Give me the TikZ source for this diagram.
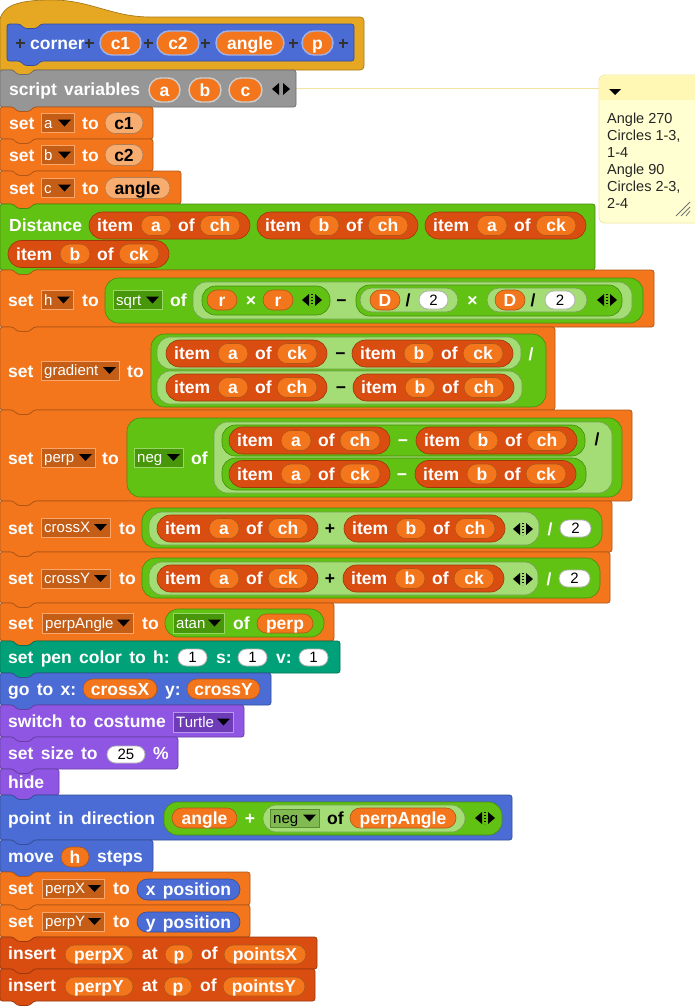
\documentclass[tikz,border=0pt]{standalone}
\usepackage{fontspec}
\setmainfont{Liberation Sans}
\definecolor{ctl}{RGB}{230,168,34}
\definecolor{mot}{RGB}{74,108,212}
\definecolor{lks}{RGB}{143,86,227}
\definecolor{pen}{RGB}{0,161,120}
\definecolor{ops}{RGB}{98,194,19}
\definecolor{opl}{RGB}{164,220,118}
\definecolor{var}{RGB}{243,118,29}
\definecolor{varl}{RGB}{247,172,112}
\definecolor{lst}{RGB}{217,77,17}
\definecolor{oth}{RGB}{150,150,150}
\definecolor{varD}{RGB}{196,93,22}
\definecolor{varB}{RGB}{250,165,105}
\definecolor{opsD}{RGB}{72,150,10}
\definecolor{opsB}{RGB}{150,215,100}
\definecolor{lksD}{RGB}{110,60,185}
\definecolor{lksB}{RGB}{185,150,240}
\definecolor{oplD}{RGB}{128,186,80}
\definecolor{oplB}{RGB}{90,140,50}
\definecolor{cmtb}{RGB}{255,255,210}
\definecolor{cmtt}{RGB}{255,248,180}
\definecolor{cmtd}{RGB}{240,230,160}
\definecolor{rimb}{RGB}{160,178,232}
\definecolor{rimg}{RGB}{205,205,205}
\newcounter{nn}
\tikzset{
 lbl/.style={anchor=base west,inner sep=0pt,font={\bfseries\fontsize{17.5}{20}\selectfont\spaceskip=7.3pt\relax},text=white},
 clbl/.style={lbl,anchor=base},
 ddt/.style={anchor=base west,inner sep=0pt,font={\fontsize{15}{17}\selectfont}},
 numt/.style={anchor=base,inner sep=0pt,font={\fontsize{15}{17}\selectfont},text=black},
 cmt/.style={anchor=base west,inner sep=0pt,font={\fontsize{14.5}{17}\selectfont},text=black!85},
}
\newcommand\cmd[5]{%
 \path[fill=#1,draw=#1!72!black,line width=.7,rounded corners=2.5pt] ({#2},{#5}) -- ({#2},{#3}) -- ({#2+13},{#3}) -- ({#2+17.5},{#3+4.5}) -- ({#2+29.5},{#3+4.5}) -- ({#2+34},{#3}) -- ({#4},{#3}) -- ({#4},{#5}) -- ({#2+34},{#5}) -- ({#2+29.5},{#5+4.5}) -- ({#2+17.5},{#5+4.5}) -- ({#2+13},{#5}) -- cycle;}
\newcommand\rep[6][]{%
 \pgfmathsetmacro\rr{min(13.5,((#6)-(#4))/2)}%
 \path[fill=#2,draw=#2!72!black,line width=.6,rounded corners=\rr pt,#1] ({#3},{#4}) rectangle ({#5},{#6});}
\newcommand\tx[4][white]{\stepcounter{nn}\node[lbl,text=#1] (n\arabic{nn}) at ({#2},{#3}) {#4};}
\newcommand\ct[4][white]{\stepcounter{nn}\node[clbl,text=#1] (n\arabic{nn}) at ({#2},{#3}) {#4};}
\newcommand\dd[8][white]{%
 \path[fill=#2,draw=#3,line width=.8] ({#4},{#5}) rectangle ({#6},{#7});
 \stepcounter{nn}\node[ddt,text=#1] (n\arabic{nn}) at ({#4+3},{(#5+#7)/2+5.3}) {#8};
 \fill[black] ({#6-16},{(#5+#7)/2-3.5}) -- ({#6-3},{(#5+#7)/2-3.5}) -- ({#6-9.5},{(#5+#7)/2+3.5}) -- cycle;}
\newcommand\num[5]{%
 \rep[fill=white,draw=black!30,line width=.8]{white}{#1}{#2}{#3}{#4}
 \stepcounter{nn}\node[numt] (n\arabic{nn}) at ({(#1+#3)/2},{(#2+#4)/2+5.3}) {#5};}
\newcommand\arw[2]{%
 \fill[black] ({#1},{#2}) -- ({#1+7},{#2-6}) -- ({#1+7},{#2+6}) -- cycle;
 \fill[black] ({#1+20},{#2}) -- ({#1+13},{#2-6}) -- ({#1+13},{#2+6}) -- cycle;
 \draw[black,line width=1.3,dash pattern=on 1.4pt off 1.6pt] ({#1+10},{#2-6}) -- ({#1+10},{#2+6});}
\newcommand\itm[4]{%
 \rep{lst}{#1}{#2-13.5}{#1+161}{#2+13.5}
 \tx{#1+8}{#2+6.3}{item}
 \rep{var}{#1+52}{#2-10}{#1+82}{#2+10}
 \ct{#1+67}{#2+6.3}{#3}
 \tx{#1+89}{#2+6.3}{of}
 \rep{var}{#1+111}{#2-10}{#1+151}{#2+10}
 \ct{#1+131}{#2+6.3}{#4}}
\newcommand\pls[2]{\draw[black!80,line width=1.3] ({#1-4.5},{#2}) -- ({#1+4.5},{#2}) ({#1},{#2-4.5}) -- ({#1},{#2+4.5});}
\begin{document}
\begin{tikzpicture}[x=1pt,y=-1pt]
\useasboundingbox[fill=white] (0,0) rectangle (695,1007);
% comment
\draw[cmtd,line width=1] (296,88) -- (599,88);
\path[fill=cmtb,draw=cmtd,line width=.8,rounded corners=6pt] (599,75) rectangle (703,223);
\fill[cmtt,rounded corners=6pt] (599.6,100) -- (599.6,75.6) -- (702.4,75.6) -- (702.4,100);
\fill[black] (609,89) -- (621,89) -- (615,95) -- cycle;
\node[cmt] (c1) at (607,123) {Angle 270};
\node[cmt] (c2) at (607,140) {Circles 1-3,};
\node[cmt] (c3) at (607,157) {1-4};
\node[cmt] (c4) at (607,174) {Angle 90};
\node[cmt] (c5) at (607,191) {Circles 2-3,};
\node[cmt] (c6) at (607,208) {2-4};
\draw[black!55,line width=.8] (676,216) -- (690,202) (681,216) -- (690,207) (686,216) -- (690,211);
% hat
\path[fill=ctl,draw=ctl!72!black,line width=.7] (0,70) -- (0,19) .. controls (4,4) and (22,0) .. (52,0) .. controls (90,0) and (112,17) .. (150,17) -- (360,17) .. controls (362.5,17) and (364,18.5) .. (364,21) -- (364,66) .. controls (364,68.5) and (362.5,70) .. (360,70) -- (34,70) -- (29.5,74.5) -- (17.5,74.5) -- (13,70) -- cycle;
\cmd{mot}{7}{24}{354}{61}
\pls{20}{43}
\tx{30}{49}{corner}
\pls{89}{43}
\rep[draw=rimb,line width=1.4]{var}{100}{31}{141}{55}\ct{120.5}{49.5}{c1}
\pls{148}{43}
\rep[draw=rimb,line width=1.4]{var}{157}{31}{199}{55}\ct{178}{49.5}{c2}
\pls{205}{43}
\rep[draw=rimb,line width=1.4]{var}{216}{31}{284}{55}\ct{250}{49.5}{angle}
\pls{293}{43}
\rep[draw=rimb,line width=1.4]{var}{302}{31}{333}{55}\ct{317.5}{49.5}{p}
\pls{343}{43}
% script variables
\cmd{oth}{0}{70}{296}{107}
\tx{9}{95}{script variables}
\rep[draw=rimg,line width=1.4]{var}{149}{78}{180}{102}\ct{164.5}{96.3}{a}
\rep[draw=rimg,line width=1.4]{var}{189}{78}{221}{102}\ct{205}{96.3}{b}
\rep[draw=rimg,line width=1.4]{var}{229}{78}{262}{102}\ct{245.5}{96.3}{c}
\fill[black] (272,89) -- (279,83) -- (279,95) -- cycle;
\fill[black] (290,89) -- (283,83) -- (283,95) -- cycle;
% set a b c
\cmd{var}{0}{107}{153}{139}
\tx{9}{129.3}{set}\dd{varD}{varB}{41}{113.5}{74}{132.5}{a}\tx{82}{129.3}{to}
\rep{varl}{105}{112.5}{143}{133.5}\ct[black]{124}{129.3}{c1}
\cmd{var}{0}{139}{153}{171}
\tx{9}{161.3}{set}\dd{varD}{varB}{41}{145.5}{74}{164.5}{b}\tx{82}{161.3}{to}
\rep{varl}{105}{144.5}{143}{165.5}\ct[black]{124}{161.3}{c2}
\cmd{var}{0}{171}{181}{204}
\tx{9}{194.3}{set}\dd{varD}{varB}{41}{178.5}{74}{197.5}{c}\tx{82}{194.3}{to}
\rep{varl}{105}{177.5}{170}{198.5}\ct[black]{137.5}{194.3}{angle}
% Distance
\cmd{ops}{0}{204}{595}{270}
\tx{9}{231.3}{Distance}
\itm{89}{225.5}{a}{ch}
\itm{257}{225.5}{b}{ch}
\itm{425}{225.5}{a}{ck}
\itm{8}{254}{b}{ck}
% set h
\cmd{var}{0}{270}{654}{327}
\tx{8}{306}{set}\dd{varD}{varB}{41}{290.5}{73}{309.5}{h}\tx{82}{306}{to}
\rep{ops}{105}{278}{643}{323}
\dd{opsD}{opsB}{113}{290.5}{162}{309.5}{sqrt}
\tx{170}{306}{of}
\rep{opl}{193}{282}{632}{319}
\rep{ops}{202}{286}{330}{315}
\rep{var}{207}{290}{237}{310}\ct{222}{306.3}{r}
\ct{251}{306.3}{×}
\rep{var}{263}{290}{293}{310}\ct{278}{306.3}{r}
\arw{302}{300}
\ct[black]{341.5}{306.3}{−}
\rep{ops}{356}{285}{622}{316}
\rep{opl}{360}{288}{458}{312}
\rep{var}{370}{290}{400}{310}\ct{385}{306.3}{D}
\ct[black]{408}{306.3}{/}
\num{419}{291}{448}{309}{2}
\ct{472.5}{306.3}{×}
\rep{opl}{487}{288}{587}{312}
\rep{var}{495}{290}{525}{310}\ct{510}{306.3}{D}
\ct[black]{533}{306.3}{/}
\num{545}{291}{575}{309}{2}
\arw{597}{300}
% set gradient
\cmd{var}{0}{327}{555}{410}
\tx{8}{377}{set}\dd{varD}{varB}{41}{361}{119}{380}{gradient}\tx{127}{377}{to}
\rep{ops}{151}{334}{546}{407}
\rep{opl}{157}{337}{521}{369}
\itm{166}{353.5}{a}{ck}
\ct[black]{340.5}{359.8}{−}
\itm{352}{353.5}{b}{ck}
\ct{531}{360}{/}
\rep{opl}{157}{371}{522}{404}
\itm{166}{387.5}{a}{ch}
\ct[black]{341}{393.8}{−}
\itm{353}{387.5}{b}{ch}
% set perp
\cmd{var}{0}{410}{632}{501}
\tx{8}{464}{set}\dd{varD}{varB}{41}{448}{95}{467}{perp}\tx{102}{464}{to}
\rep{ops}{127}{418}{622}{497}
\dd{opsD}{opsB}{134}{448}{183}{467}{neg}
\tx{191}{464}{of}
\rep{opl}{214}{422}{612}{493}
\rep{ops}{222}{425}{585}{456}
\itm{229}{440.5}{a}{ch}
\ct{403}{446.8}{−}
\itm{416}{440.5}{b}{ch}
\ct[black]{597}{445.5}{/}
\rep{ops}{222}{458}{586}{490}
\itm{229}{474}{a}{ck}
\ct{402}{480.3}{−}
\itm{415}{474}{b}{ck}
% set crossX
\cmd{var}{0}{501}{612}{552}
\tx{8}{534}{set}\dd{varD}{varB}{41}{518}{110}{537}{crossX}\tx{119}{534}{to}
\rep{ops}{142}{508}{602}{548}
\rep{opl}{149}{512}{539}{545}
\itm{157}{528.5}{a}{ch}
\ct[black]{330}{534.8}{+}
\itm{344}{528.5}{b}{ch}
\arw{513}{529}
\ct{550}{535}{/}
\num{560}{520}{591}{537}{2}
% set crossY
\cmd{var}{0}{552}{610}{603}
\tx{8}{584.5}{set}\dd{varD}{varB}{41}{569}{110}{588}{crossY}\tx{119}{584.5}{to}
\rep{ops}{142}{558}{600}{598}
\rep{opl}{149}{562}{538}{595}
\itm{157}{578.5}{a}{ck}
\ct[black]{330}{584.8}{+}
\itm{343}{578.5}{b}{ck}
\arw{513}{579}
\ct{549}{585}{/}
\num{559}{570}{590}{587}{2}
% set perpAngle
\cmd{var}{0}{603}{334}{641}
\tx{8}{629}{set}\dd{varD}{varB}{42}{613}{133}{633}{perpAngle}\tx{142}{629}{to}
\rep{ops}{165}{609}{324}{637}
\dd{opsD}{opsB}{173}{613}{224}{633}{atan}
\tx{233}{629}{of}
\rep{var}{257}{614}{313}{633}\ct{285}{629.8}{perp}
% pen color
\cmd{pen}{0}{641}{340}{673}
\tx{8}{663.8}{set pen color to h:}
\num{178}{649}{207}{666}{1}
\tx{216}{663.8}{s:}
\num{238}{649}{267}{666}{1}
\tx{276}{663.8}{v:}
\num{299}{649}{328}{666}{1}
% go to
\cmd{mot}{0}{673}{271}{705}
\tx{8}{695.3}{go to x:}
\rep{var}{83}{679}{157}{699}\ct{120}{695.3}{crossX}
\tx{165}{695.3}{y:}
\rep{var}{187}{679}{260}{699}\ct{223.5}{695.3}{crossY}
% switch costume
\cmd{lks}{0}{705}{244}{737}
\tx{8}{727.8}{switch to costume}
\dd{lksD}{lksB}{173}{712}{233}{732}{Turtle}
% set size
\cmd{lks}{0}{737}{178}{769}
\tx{8}{759.8}{set size to}
\num{107}{746}{145}{763}{25}
\tx{153}{759.8}{\%}
% hide
\cmd{lks}{0}{769}{59}{795}
\tx{8}{788.3}{hide}
% point in direction
\cmd{mot}{0}{795}{512}{840}
\tx{8}{824.3}{point in direction}
\rep{ops}{164}{802}{502}{835}
\rep{var}{172}{808}{237}{828}\ct{204.5}{824.3}{angle}
\ct{250}{824.3}{+}
\rep{opl}{263}{805}{465}{832}
\dd[black]{oplD}{oplB}{270}{809}{319}{827}{neg}
\tx[black]{327}{824.3}{of}
\rep{var}{350}{808}{456}{828}\ct{403}{824.3}{perpAngle}
\arw{475}{818}
% move
\cmd{mot}{0}{840}{153}{872}
\tx{8}{862.8}{move}
\rep{var}{61}{847}{89}{867}\ct{75}{863.3}{h}
\tx{97}{862.8}{steps}
% set perpX / perpY
\cmd{var}{0}{872}{250}{905}
\tx{8}{894.8}{set}\dd{varD}{varB}{42}{879}{104}{898}{perpX}\tx{113}{894.8}{to}
\rep{mot}{137}{879}{240}{900}\ct{188.5}{895.8}{x position}
\cmd{var}{0}{905}{250}{937}
\tx{8}{927.8}{set}\dd{varD}{varB}{42}{912}{104}{931}{perpY}\tx{113}{927.8}{to}
\rep{mot}{137}{912}{240}{932}\ct{188.5}{928.3}{y position}
% insert
\cmd{lst}{0}{937}{317}{969}
\tx{8}{959.8}{insert}
\rep{var}{65}{945}{133}{964}\ct{99}{960.8}{perpX}
\tx{142}{959.8}{at}
\rep{var}{165}{945}{193}{964}\ct{179}{960.8}{p}
\tx{201}{959.8}{of}
\rep{var}{224}{945}{306}{964}\ct{265}{960.8}{pointsX}
\cmd{lst}{0}{969}{315}{1001}
\tx{8}{991.8}{insert}
\rep{var}{65}{977}{133}{996}\ct{99}{992.8}{perpY}
\tx{142}{991.8}{at}
\rep{var}{164}{977}{192}{996}\ct{178}{992.8}{p}
\tx{200}{991.8}{of}
\rep{var}{223}{977}{305}{996}\ct{264}{992.8}{pointsY}
\end{tikzpicture}
\end{document}
